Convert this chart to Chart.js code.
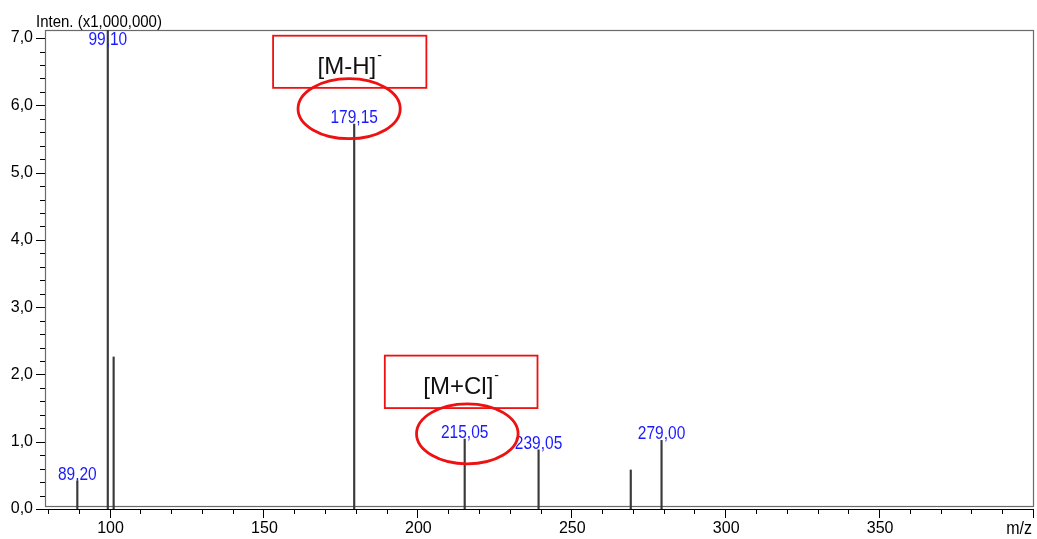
<!DOCTYPE html>
<html>
<head>
<meta charset="utf-8">
<title>Mass spectrum</title>
<script src="https://cdn.jsdelivr.net/npm/chart.js@4/dist/chart.umd.min.js"></script>
<style>
  html, body { margin: 0; padding: 0; background: #fff; }
  canvas { display: block; }
</style>
</head>
<body>
<canvas id="ms" width="1037" height="539"></canvas>
<script>
// Peak list: m/z and intensity (x1,000,000)
const mzValues    = [89.20, 99.10, 101.0, 179.15, 215.05, 239.05, 269.0, 279.00];
const intensities = [0.42, 7.12, 2.26, 5.72, 1.04, 0.88, 0.58, 1.02];
const peakLabels  = ['89,20', '99,10', '', '179,15', '215,05', '239,05', '', '279,00'];

// Axis ticks
const xMajorTicks = [100, 150, 200, 250, 300, 350];
const yMajorTicks = [0, 1, 2, 3, 4, 5, 6, 7];
const xAxisUnit = 'm/z';
const yAxisTitle = 'Inten. (x1,000,000)';

// Ion assignments
const ionNotes = ['[M-H]', '[M+Cl]'];
const ionCharge = ['-', '-'];

// Boxes and circles around the assigned ions, in data units
const noteLayout = [
  { box: [152.8, 202.6, 7.035, 6.26], ellipse: [177.5, 5.95, 16.6, 0.446] },
  { box: [189.1, 238.7, 2.28, 1.50],  ellipse: [215.9, 1.117, 16.5, 0.446] }
];

const X_MIN = 78.7, X_MAX = 400, Y_MAX = 7.12;
const FONT = '"Liberation Sans", Arial, sans-serif';

function fmtComma(v, d) { return v.toFixed(d).replace('.', ','); }

function stretchedText(ctx, text, x, y, size, color, align, sy) {
  ctx.save();
  ctx.font = size + 'px ' + FONT;
  ctx.fillStyle = color;
  ctx.textAlign = align;
  ctx.textBaseline = 'alphabetic';
  ctx.translate(x, y);
  ctx.scale(1, sy);
  ctx.fillText(text, 0, 0);
  ctx.restore();
}

// Frame, tick marks, axis captions, peak labels and ion annotations
const spectrumDecor = {
  id: 'spectrumDecor',
  beforeDatasetsDraw(chart) {
    const { ctx, chartArea: a, scales: { x, y } } = chart;
    ctx.save();
    // plot frame
    ctx.strokeStyle = '#6a6a6a';
    ctx.lineWidth = 1.2;
    ctx.strokeRect(a.left + 0.5, a.top + 0.5, a.right - a.left - 1, a.bottom - a.top - 3);
    // x axis baseline
    ctx.strokeStyle = '#000';
    ctx.lineWidth = 1;
    ctx.beginPath();
    ctx.moveTo(a.left - 9, a.bottom + 0.5);
    ctx.lineTo(a.right, a.bottom + 0.5);
    ctx.stroke();
    // y ticks: major every 1, minor every 0.2
    ctx.beginPath();
    for (let i = 0; i <= 35; i++) {
      const v = i * 0.2;
      if (v > Y_MAX) break;
      const py = Math.round(y.getPixelForValue(v)) + 0.5;
      const major = i % 5 === 0;
      ctx.moveTo(a.left - (major ? 9 : 5), py);
      ctx.lineTo(a.left, py);
    }
    // x ticks: major every 50, minor every 10
    for (let v = 80; v <= X_MAX; v += 10) {
      const px = Math.round(x.getPixelForValue(v)) - 0.5;
      const major = v % 50 === 0;
      ctx.moveTo(px, a.bottom);
      ctx.lineTo(px, a.bottom + (major ? 9 : 5));
    }
    ctx.stroke();
    ctx.restore();

    // axis captions
    stretchedText(ctx, yAxisTitle, 36, 27, 15, '#000', 'left', 1.1);
    stretchedText(ctx, xAxisUnit, 1032, 534, 16, '#000', 'right', 1.1);
  },
  afterDatasetsDraw(chart) {
    const { ctx, chartArea: a, scales: { x, y } } = chart;
    // peak labels
    mzValues.forEach((mz, i) => {
      if (!peakLabels[i]) return;
      const px = x.getPixelForValue(mz);
      const py = Math.max(y.getPixelForValue(intensities[i]) - 1, a.top + 15);
      stretchedText(ctx, peakLabels[i], px, py, 15.5, '#1a1aff', 'center', 1.15);
    });
    // ion annotations
    noteLayout.forEach((n, i) => {
      const [x0, x1, y0, y1] = n.box;
      const bx0 = x.getPixelForValue(x0), bx1 = x.getPixelForValue(x1);
      const by0 = y.getPixelForValue(y0), by1 = y.getPixelForValue(y1);
      ctx.save();
      ctx.strokeStyle = '#ee1111';
      ctx.lineWidth = 1.8;
      ctx.strokeRect(bx0, by0, bx1 - bx0, by1 - by0);
      // label with superscript charge
      ctx.font = '24px ' + FONT;
      const w = ctx.measureText(ionNotes[i]).width;
      ctx.font = '14px ' + FONT;
      const ws = ctx.measureText(ionCharge[i]).width;
      const cx = (bx0 + bx1) / 2;
      const startX = cx - (w + ws + 1) / 2;
      const base = by1 - 14;
      ctx.fillStyle = '#111';
      ctx.textAlign = 'left';
      ctx.font = '24px ' + FONT;
      ctx.fillText(ionNotes[i], startX, base);
      ctx.font = '14px ' + FONT;
      ctx.fillText(ionCharge[i], startX + w + 1, base - 14);
      // circle around the peak label
      const [ex, ey, erx, ery] = n.ellipse;
      const epx = x.getPixelForValue(ex), epy = y.getPixelForValue(ey);
      const rx = x.getPixelForValue(ex + erx) - epx;
      const ry = y.getPixelForValue(ey - ery) - epy;
      ctx.lineWidth = 2.8;
      ctx.beginPath();
      ctx.ellipse(epx, epy, rx, ry, 0, 0, Math.PI * 2);
      ctx.stroke();
      ctx.restore();
    });
  }
};

new Chart(document.getElementById('ms'), {
  type: 'bar',
  data: {
    datasets: [{
      data: mzValues.map((mz, i) => ({ x: mz, y: intensities[i] })),
      backgroundColor: '#3a3a3a',
      borderWidth: 0,
      barThickness: 1.5
    }]
  },
  options: {
    responsive: false,
    devicePixelRatio: 1,
    animation: false,
    layout: { padding: { top: 30, right: 3, left: 0, bottom: 0 } },
    plugins: { legend: { display: false }, tooltip: { enabled: false } },
    scales: {
      x: {
        type: 'linear',
        offset: false,
        min: X_MIN,
        max: X_MAX,
        afterBuildTicks: s => { s.ticks = xMajorTicks.map(v => ({ value: v })); },
        afterFit: s => { s.height = 30; },
        grid: { display: false, drawTicks: false, offset: false },
        border: { display: false },
        ticks: {
          padding: 10,
          maxRotation: 0,
          autoSkip: false,
          color: '#000',
          font: { family: FONT, size: 16 },
          callback: v => String(v)
        }
      },
      y: {
        type: 'linear',
        min: 0,
        max: Y_MAX,
        afterBuildTicks: s => { s.ticks = yMajorTicks.map(v => ({ value: v })); },
        afterFit: s => { s.width = 45; },
        grid: { display: false, drawTicks: false },
        border: { display: false },
        ticks: {
          padding: 12,
          autoSkip: false,
          color: '#000',
          font: { family: FONT, size: 16 },
          callback: v => fmtComma(v, 1)
        }
      }
    }
  },
  plugins: [spectrumDecor]
});
</script>
</body>
</html>
